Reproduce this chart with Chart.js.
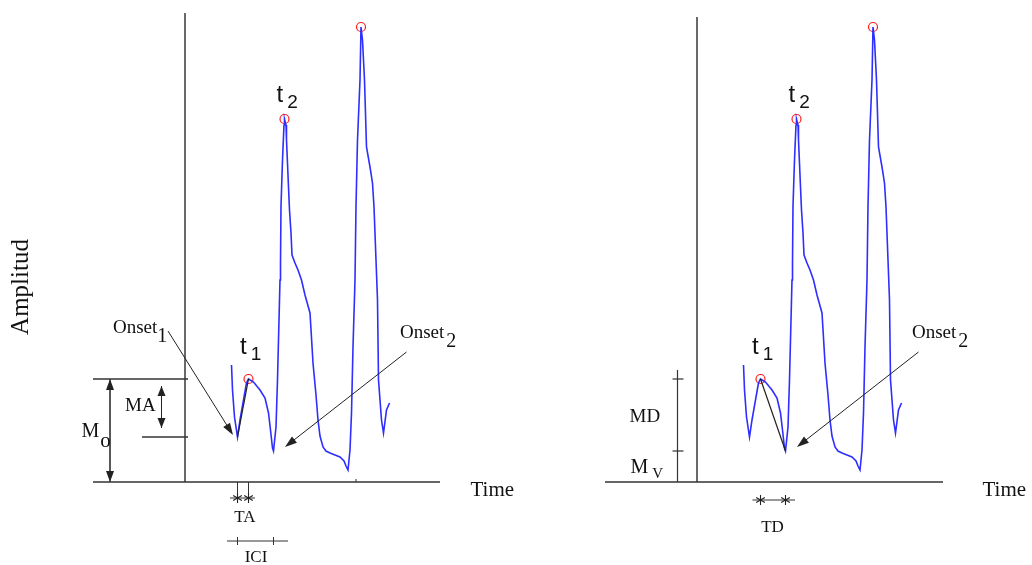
<!DOCTYPE html>
<html><head><meta charset="utf-8">
<script src="https://cdn.jsdelivr.net/npm/chart.js@4.4.1/dist/chart.umd.min.js"></script>
<style>
html,body{margin:0;padding:0;background:#fff;}
#wrap{position:relative;width:1032px;height:565px;overflow:hidden;background:#fff;}
#left{position:absolute;left:0;top:0;}
#right{position:absolute;left:512px;top:0;}
</style></head><body>
<div id="wrap"><canvas id="left" width="530" height="565"></canvas><canvas id="right" width="520" height="565"></canvas></div>
<script>
// ---- signal (time in ms, amplitude in arbitrary units) ----
const TIME_MS = [93, 95, 99, 105, 110, 117, 123, 127, 137, 150, 160, 167, 171, 175, 177, 182, 185, 188, 190, 191,
  192, 195, 198, 199, 202, 203, 207, 209, 212, 214, 220, 226, 233, 240, 250, 256, 262, 266, 270, 276,
  282, 290, 300, 310, 318, 322, 326, 330, 333, 336, 340, 342, 345, 350, 352, 355, 359, 363, 370, 375,
  378, 382, 385, 387, 393, 397, 403, 409];
const AMPLITUDE = [1.17, 0.92, 0.65, 0.45, 0.62, 0.82, 0.99, 1.03, 1.00, 0.92, 0.84, 0.69, 0.52, 0.34, 0.31, 0.55, 1.02, 1.62, 2.02, 2.19,
  2.76, 3.22, 3.57, 3.63, 3.57, 3.42, 2.95, 2.72, 2.49, 2.27, 2.19, 2.12, 2.02, 1.87, 1.69, 1.19, 0.87, 0.62, 0.46, 0.35,
  0.31, 0.29, 0.27, 0.25, 0.21, 0.16, 0.12, 0.32, 0.69, 1.35, 2.02, 2.76, 3.42, 4.02, 4.55, 4.42, 4.02, 3.35, 3.15, 2.99,
  2.75, 2.22, 1.82, 1.02, 0.62, 0.49, 0.72, 0.79];
// detected peaks (red circles)
const PEAK_TIME = [127, 199, 352];
const PEAK_AMP = [1.03, 3.63, 4.55];
// characteristic events
const ONSET1_T = 105, ONSET1_A = 0.45;
const T1_T = 127, T1_A = 1.03;
const ONSET2_T = 177, ONSET2_A = 0.31;
const T2_T = 199, T2_A = 3.63;
// axis labels / texts
const X_LABEL = 'Time';
const Y_LABEL = 'Amplitud';

const SERIF = '"Liberation Serif","Times New Roman",serif';
const SANS = '"Liberation Sans",Arial,sans-serif';
const INK = '#222';

function helpers(chart){
  const ctx = chart.ctx;
  const X = v => chart.scales.x.getPixelForValue(v);
  const Y = v => chart.scales.y.getPixelForValue(v);
  const seg = (x1,y1,x2,y2,w,c) => { ctx.save(); ctx.strokeStyle=c||INK; ctx.lineWidth=w||1; ctx.beginPath(); ctx.moveTo(x1,y1); ctx.lineTo(x2,y2); ctx.stroke(); ctx.restore(); };
  const head = (px,py,ang,len,hw) => {
    ctx.save(); ctx.fillStyle=INK; ctx.translate(px,py); ctx.rotate(ang);
    ctx.beginPath(); ctx.moveTo(0,0); ctx.lineTo(-len,-hw); ctx.lineTo(-len,hw); ctx.closePath(); ctx.fill(); ctx.restore();
  };
  const arrow = (x1,y1,x2,y2,both,len,hw) => {
    len = len||11; hw = hw||4;
    const ang = Math.atan2(y2-y1,x2-x1);
    seg(x1,y1,x2 - Math.cos(ang)*len*0.6, y2 - Math.sin(ang)*len*0.6, 1);
    if (both) { seg(x1 + Math.cos(ang)*len*0.6, y1 + Math.sin(ang)*len*0.6, x2, y2, 1); head(x1,y1,ang+Math.PI,len,hw); }
    head(x2,y2,ang,len,hw);
  };
  const star = (px,py,r) => {
    for (const a of [90, 30, 150]) {
      const rad = a*Math.PI/180;
      seg(px - Math.cos(rad)*r, py - Math.sin(rad)*r, px + Math.cos(rad)*r, py + Math.sin(rad)*r, 1.1);
    }
  };
  const text = (s,px,py,font,align) => { ctx.save(); ctx.fillStyle='#111'; ctx.font=font; ctx.textAlign=align||'left'; ctx.textBaseline='middle'; ctx.fillText(s,px,py); ctx.restore(); };
  const sub = (main,s,px,py,mf,sf,gap,dy) => {
    ctx.save(); ctx.font=mf; const w = ctx.measureText(main).width; ctx.restore();
    text(main,px,py,mf); text(s,px+w+gap,py+dy,sf);
  };
  return {ctx,X,Y,seg,head,arrow,star,text,sub};
}

function commonMarks(h, axisTop, axisRight){
  const {X,Y,seg,arrow,text,sub} = h;
  // axes
  seg(X(0),Y(axisTop),X(0),Y(0),1.6,'#444');
  seg(X(-184),Y(0),X(axisRight),Y(0),1.4,'#333');
  text(X_LABEL, X(571), Y(-0.08), '21px '+SERIF);
  // t labels
  sub('t','1',X(110),Y(1.35),'24px '+SANS,'19px '+SANS,4,8);
  sub('t','2',X(183),Y(3.87),'24px '+SANS,'19px '+SANS,4,8);
  // Onset 2
  sub('Onset','2',X(430),Y(1.49),'19px '+SERIF,'20px '+SERIF,2,9);
  arrow(X(443),Y(1.30),X(200),Y(0.35),false,12,4);
}

const annotLeft = {
  id:'annotLeft',
  afterDatasetsDraw(chart){
    const h = helpers(chart);
    const {ctx,X,Y,seg,arrow,star,text,sub} = h;
    commonMarks(h, 4.69, 510);
    // y label
    ctx.save(); ctx.translate(X(-328),Y(1.95)); ctx.rotate(-Math.PI/2);
    ctx.fillStyle='#111'; ctx.font='25px '+SERIF; ctx.textAlign='center'; ctx.textBaseline='middle';
    ctx.fillText(Y_LABEL,0,0); ctx.restore();
    // onset1 -> t1 slope line
    seg(X(ONSET1_T),Y(ONSET1_A),X(T1_T),Y(T1_A),1.2,'#222');
    // Onset 1
    sub('Onset','1',X(-144),Y(1.54),'19px '+SERIF,'20px '+SERIF,0,9);
    arrow(X(-34),Y(1.51),X(ONSET1_T-9),Y(ONSET1_A+0.02),false,12,4);
    // reference lines
    seg(X(-184),Y(T1_A),X(6),Y(T1_A),1.3,'#333');
    seg(X(-86),Y(ONSET1_A),X(6),Y(ONSET1_A),1.3,'#333');
    // Mo
    arrow(X(-150),Y(T1_A),X(-150),Y(0),true,11,4);
    sub('M','o',X(-207),Y(0.50),'20px '+SERIF,'21px '+SERIF,1,9);
    // MA
    arrow(X(-47),Y(T1_A-0.07),X(-47),Y(ONSET1_A+0.09),true,10,4);
    text('MA',X(-120),Y(0.76),'19px '+SERIF);
    // TA
    seg(X(ONSET1_T),Y(0),X(ONSET1_T),Y(-0.16),1,'#333');
    seg(X(T1_T),Y(0),X(T1_T),Y(-0.16),1,'#333');
    seg(X(90),Y(-0.16),X(140),Y(-0.16),1,'#333');
    star(X(ONSET1_T),Y(-0.16),5); star(X(T1_T),Y(-0.16),5);
    text('TA',X(120),Y(-0.36),'17px '+SERIF,'center');
    // ICI
    seg(X(84),Y(-0.59),X(206),Y(-0.59),1.2,'#333');
    seg(X(ONSET1_T),Y(-0.55),X(ONSET1_T),Y(-0.63),1,'#333');
    seg(X(ONSET2_T),Y(-0.55),X(ONSET2_T),Y(-0.63),1,'#333');
    text('ICI',X(142),Y(-0.76),'17px '+SERIF,'center');
    // small tick on time axis
    seg(X(342),Y(0),X(342),Y(0.03),1,'#333');
  }
};

const annotRight = {
  id:'annotRight',
  afterDatasetsDraw(chart){
    const h = helpers(chart);
    const {X,Y,seg,star,text,sub} = h;
    commonMarks(h, 4.65, 492);
    // t1 -> onset2 slope line
    seg(X(T1_T),Y(T1_A),X(ONSET2_T),Y(ONSET2_A),1.2,'#222');
    // MD bar
    seg(X(-39),Y(T1_A+0.09),X(-39),Y(0),1.2,'#333');
    seg(X(-39)-5,Y(T1_A),X(-39)+6,Y(T1_A),1.2,'#333');
    seg(X(-39)-5,Y(ONSET2_A),X(-39)+6,Y(ONSET2_A),1.2,'#333');
    text('MD',X(-135),Y(0.65),'19px '+SERIF);
    sub('M','V',X(-133),Y(0.14),'20px '+SERIF,'15px '+SERIF,4,6);
    // TD
    seg(X(111),Y(-0.18),X(196),Y(-0.18),1,'#333');
    star(X(T1_T),Y(-0.18),5); star(X(ONSET2_T),Y(-0.18),5);
    text('TD',X(151),Y(-0.46),'17px '+SERIF,'center');
  }
};

function makeChart(id, xMax, plugin){
  const pts = TIME_MS.map((t,i)=>({x:t,y:AMPLITUDE[i]}));
  const peaks = PEAK_TIME.map((t,i)=>({x:t,y:PEAK_AMP[i]}));
  return new Chart(document.getElementById(id), {
    type:'scatter',
    data:{datasets:[
      {data:pts, showLine:true, borderColor:'#2e2eff', borderWidth:1.6, pointRadius:0, tension:0, fill:false},
      {data:peaks, showLine:false, pointRadius:4.5, pointBorderColor:'#ff1a1a', pointBackgroundColor:'rgba(0,0,0,0)', pointBorderWidth:1.2}
    ]},
    options:{
      responsive:false, animation:false, devicePixelRatio:1,
      layout:{padding:0, autoPadding:false},
      plugins:{legend:{display:false}, tooltip:{enabled:false}, title:{display:false}},
      scales:{
        x:{type:'linear', min:-370, max:xMax, display:false},
        y:{type:'linear', min:-0.83, max:4.82, display:false}
      }
    },
    plugins:[plugin]
  });
}
// left canvas is 530 px wide (overlaps the transparent right canvas) -> 2 ms per pixel
makeChart('left', 690, annotLeft);
makeChart('right', 670, annotRight);
</script>
</body></html>
